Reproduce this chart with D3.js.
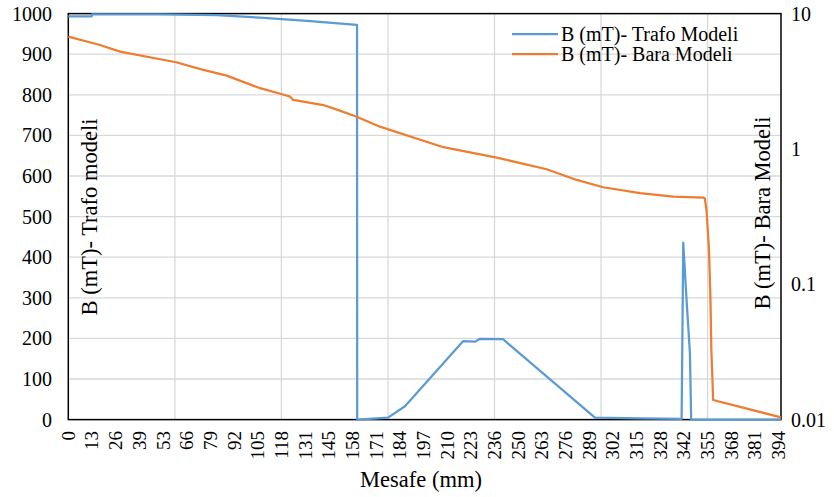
<!DOCTYPE html>
<html>
<head>
<meta charset="utf-8">
<script src="https://cdn.jsdelivr.net/npm/d3@7/dist/d3.min.js"></script>
<style>
  html, body { margin: 0; padding: 0; background: #fff; }
  svg { display: block; font-family: "Liberation Serif", "Times New Roman", serif; }
</style>
</head>
<body>
<svg id="chart" width="834" height="497"></svg>
<script>
// ---- data ----
const categoryStep = 1.31375;          // mm per category
const lastCategory = 301;              // index of last category
const xTickLabels = ["0","13","26","39","53","66","79","92","105","118","131","145","158","171","184","197","210","223","236","250","263","276","289","302","315","328","342","355","368","381","394"];
const labelEvery = 10;                 // categories between labels
const gridEvery = 45;                  // categories between vertical gridlines

const leftTicks = [0,100,200,300,400,500,600,700,800,900,1000];
const rightTicks = [0.01,0.1,1,10];
const rightTickLabels = ["0.01","0.1","1","10"];

const trafoX = [0,13.0,13.1,50,82.5,106.4,132.4,160.2,160.3,177.4,186.8,219.0,225.6,228.4,241.2,292.2,317.2,340.3,341.2,343.1,344.9,345.6,395.4];
const trafoY = [993,993,998,998,996,990,982,972,0,5,33,193,192,199,198,5,3,2,436,290,164,0,0];

const baraX = [0,17.6,28.7,59.8,74.9,87.9,106.4,123.0,124.8,141.5,150.7,160.0,172.9,208.1,237.7,265.4,282.1,296.8,317.2,335.7,352.3,353.2,354.1,355.5,356.3,356.8,357.8,372.7,395.4];
const baraY = [6.76,5.86,5.24,4.37,3.84,3.48,2.81,2.44,2.30,2.11,1.92,1.73,1.46,1.03,0.863,0.708,0.590,0.521,0.471,0.444,0.437,0.43,0.354,0.179,0.0766,0.0327,0.01396,0.0124,0.0104];

const seriesNames = ["B (mT)- Trafo Modeli","B (mT)- Bara Modeli"];
const colors = ["#5B9BD5","#ED7D31"];

// ---- layout ----
const plot = {left: 68.3, right: 781, top: 13.6, bottom: 419.6};
const svg = d3.select("#chart");

const x = d3.scaleLinear().domain([0, lastCategory*categoryStep]).range([plot.left, plot.right]);
const yL = d3.scaleLinear().domain([0,1000]).range([plot.bottom, plot.top]);
const yR = d3.scaleLog().domain([0.01,10]).range([plot.bottom, plot.top]);

// gridlines
const gGrid = svg.append("g").attr("stroke","#D9D9D9").attr("stroke-width",1.3);
leftTicks.forEach(v => {
  gGrid.append("line").attr("x1",plot.left).attr("x2",plot.right).attr("y1",yL(v)).attr("y2",yL(v));
});
for (let k = gridEvery; k <= lastCategory; k += gridEvery) {
  const xv = x(k*categoryStep);
  gGrid.append("line").attr("x1",xv).attr("x2",xv).attr("y1",plot.top).attr("y2",plot.bottom);
}

// plot border
svg.append("rect").attr("x",plot.left).attr("y",plot.top)
  .attr("width",plot.right-plot.left).attr("height",plot.bottom-plot.top)
  .attr("fill","none").attr("stroke","#000").attr("stroke-width",1.5);

// lines
const trafo = trafoX.map((d,i)=>[d,trafoY[i]]);
const bara = baraX.map((d,i)=>[d,baraY[i]]);
svg.append("path").datum(trafo)
  .attr("d", d3.line().x(d=>x(d[0])).y(d=>yL(d[1])))
  .attr("fill","none").attr("stroke",colors[0]).attr("stroke-width",2.25).attr("stroke-linejoin","round");
svg.append("path").datum(bara)
  .attr("d", d3.line().x(d=>x(d[0])).y(d=>yR(d[1])))
  .attr("fill","none").attr("stroke",colors[1]).attr("stroke-width",2.25).attr("stroke-linejoin","round");

// left axis labels
svg.append("g").selectAll("text").data(leftTicks).join("text")
  .attr("x",52).attr("y",d=>yL(d)).attr("text-anchor","end").attr("dominant-baseline","central")
  .attr("font-size",20).attr("fill","#000").text(d=>d);

// right axis labels
svg.append("g").selectAll("text").data(rightTicks).join("text")
  .attr("x",791).attr("y",d=>yR(d)).attr("text-anchor","start").attr("dominant-baseline","central")
  .attr("font-size",20).attr("fill","#000").text((d,i)=>rightTickLabels[i]);

// x labels
svg.append("g").selectAll("text").data(xTickLabels).join("text")
  .attr("transform",(d,i)=>`translate(${x(i*labelEvery*categoryStep)},431) rotate(-90)`)
  .attr("text-anchor","end").attr("dominant-baseline","central")
  .attr("font-size",19).attr("fill","#000").text(d=>d);

// axis titles
svg.append("text").attr("transform","translate(89,217) rotate(-90)")
  .attr("text-anchor","middle").attr("dominant-baseline","central")
  .attr("font-size",22.5).text("B (mT)- Trafo modeli");
svg.append("text").attr("transform","translate(762,213) rotate(-90)")
  .attr("text-anchor","middle").attr("dominant-baseline","central")
  .attr("font-size",22.5).text("B (mT)- Bara Modeli");
svg.append("text").attr("x",421).attr("y",487).attr("text-anchor","middle")
  .attr("font-size",22.5).text("Mesafe (mm)");

// legend
const legY = [34, 54];
const leg = svg.append("g");
seriesNames.forEach((n,i)=>{
  leg.append("line").attr("x1",512).attr("x2",558).attr("y1",legY[i]).attr("y2",legY[i])
    .attr("stroke",colors[i]).attr("stroke-width",2.25);
  leg.append("text").attr("x",561).attr("y",legY[i]).attr("dominant-baseline","central")
    .attr("font-size",20).text(n);
});
</script>
</body>
</html>
